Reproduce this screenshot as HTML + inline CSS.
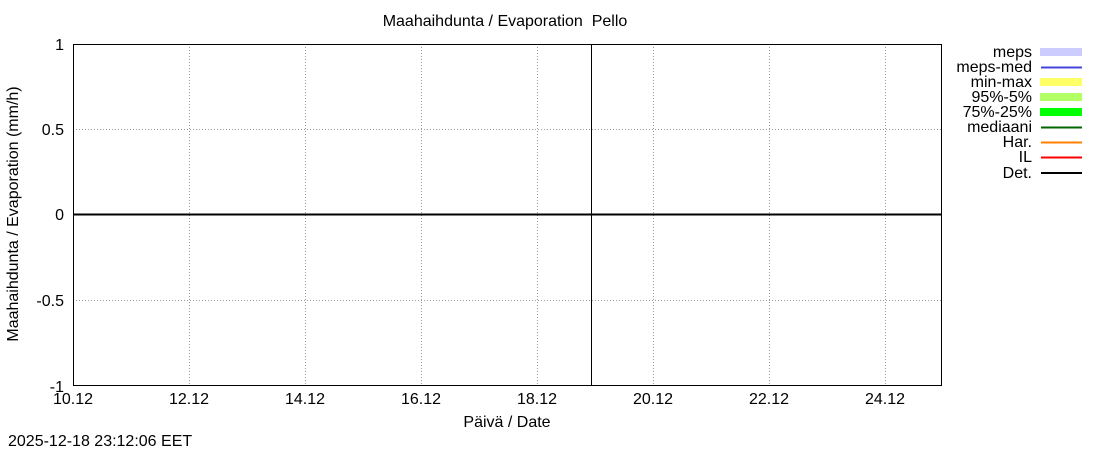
<!DOCTYPE html>
<html><head><meta charset="utf-8"><style>
html,body{margin:0;padding:0;background:#fff;}
svg text{font-family:"Liberation Sans",sans-serif;font-size:16px;fill:#000;}
</style></head><body>
<svg width="1100" height="450" xmlns="http://www.w3.org/2000/svg">
<rect width="1100" height="450" fill="#fff"/>
<g stroke="#999" stroke-width="1" stroke-dasharray="1,2">
<line x1="189.5" y1="44" x2="189.5" y2="386"/>
<line x1="305.5" y1="44" x2="305.5" y2="386"/>
<line x1="421.5" y1="44" x2="421.5" y2="386"/>
<line x1="537.5" y1="44" x2="537.5" y2="386"/>
<line x1="653.5" y1="44" x2="653.5" y2="386"/>
<line x1="769.5" y1="44" x2="769.5" y2="386"/>
<line x1="885.5" y1="44" x2="885.5" y2="386"/>
<line x1="73" y1="129.5" x2="942" y2="129.5"/>
<line x1="73" y1="300.5" x2="942" y2="300.5"/>
</g>
<line x1="591.5" y1="44" x2="591.5" y2="386" stroke="#000" stroke-width="1"/>
<line x1="73" y1="214.5" x2="942" y2="214.5" stroke="#000" stroke-width="2"/>
<rect x="73.5" y="44.5" width="868" height="341" fill="none" stroke="#000" stroke-width="1"/>
<g text-anchor="end">
<text x="64" y="50">1</text>
<text x="64" y="135">0.5</text>
<text x="64" y="220">0</text>
<text x="64" y="306">-0.5</text>
<text x="64" y="392">-1</text>
</g>
<g text-anchor="middle">
<text x="73" y="404">10.12</text>
<text x="189" y="404">12.12</text>
<text x="305" y="404">14.12</text>
<text x="421" y="404">16.12</text>
<text x="537" y="404">18.12</text>
<text x="653" y="404">20.12</text>
<text x="769" y="404">22.12</text>
<text x="885" y="404">24.12</text>
<text x="507" y="427">Päivä / Date</text>
<text x="505" y="26" xml:space="preserve">Maahaihdunta / Evaporation  Pello</text>
<text transform="translate(18,214) rotate(-90)">Maahaihdunta / Evaporation (mm/h)</text>
</g>
<text x="8" y="446">2025-12-18 23:12:06 EET</text>
<g text-anchor="end" style="font-size:17px">
<text x="1032" y="57">meps</text>
<text x="1032" y="72">meps-med</text>
<text x="1032" y="87">min-max</text>
<text x="1032" y="102">95%-5%</text>
<text x="1032" y="117">75%-25%</text>
<text x="1032" y="132">mediaani</text>
<text x="1032" y="147">Har.</text>
<text x="1032" y="162">IL</text>
<text x="1032" y="178">Det.</text>
</g>
<rect x="1040" y="48" width="42" height="8" fill="#ccccff"/>
<line x1="1041" y1="67.5" x2="1082" y2="67.5" stroke="#4444dd" stroke-width="2"/>
<rect x="1040" y="78" width="42" height="8" fill="#ffff66"/>
<rect x="1040" y="93" width="42" height="8" fill="#b3ff66"/>
<rect x="1040" y="108" width="42" height="8" fill="#00ff00"/>
<line x1="1041" y1="127.5" x2="1082" y2="127.5" stroke="#006600" stroke-width="2"/>
<line x1="1041" y1="142.5" x2="1082" y2="142.5" stroke="#ff8000" stroke-width="2"/>
<line x1="1041" y1="157.5" x2="1082" y2="157.5" stroke="#ff0000" stroke-width="2"/>
<line x1="1041" y1="173" x2="1082" y2="173" stroke="#000" stroke-width="2"/>
</svg>
</body></html>
